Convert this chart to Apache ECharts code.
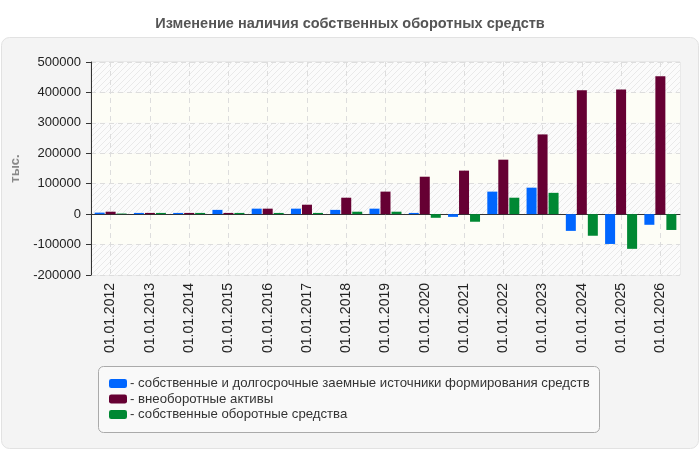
<!DOCTYPE html>
<html>
<head>
<meta charset="utf-8">
<script src="https://cdn.jsdelivr.net/npm/echarts@6/dist/echarts.min.js"></script>
<style>
html, body { margin: 0; padding: 0; background: #fff; }
#chart { width: 700px; height: 450px; }
</style>
</head>
<body>
<div id="chart"></div>
<script>
var categories = ['01.01.2012', '01.01.2013', '01.01.2014', '01.01.2015', '01.01.2016',
	'01.01.2017', '01.01.2018', '01.01.2019', '01.01.2020', '01.01.2021',
	'01.01.2022', '01.01.2023', '01.01.2024', '01.01.2025', '01.01.2026'];
var seriesNames = ['собственные и долгосрочные заемные источники формирования средств',
	'внеоборотные активы', 'собственные оборотные средства'];
var ownAndLongTerm = [5000, 4000, 4000, 14000, 18000, 18000, 14000, 18000, 4000, -9000, 74000, 87000, -55000, -98000, -35000];
var nonCurrentAssets = [8000, 4000, 4000, 4000, 18000, 31000, 54000, 74000, 123000, 143000, 179000, 262000, 407000, 410000, 453000];
var ownWorkingCapital = [2000, 4000, 4000, 4000, 4000, 4000, 8000, 8000, -12000, -25000, 54000, 70000, -71000, -114000, -52000];
var colors = ['#0066ff', '#660033', '#008833'];

// штриховка для полос сетки
function makeHatch() {
	var c = document.createElement('canvas');
	c.width = 6;
	c.height = 6;
	var ctx = c.getContext('2d');
	ctx.fillStyle = '#fbfbfb';
	ctx.fillRect(0, 0, 6, 6);
	ctx.strokeStyle = '#e9e9e9';
	ctx.lineWidth = 1;
	ctx.beginPath();
	ctx.moveTo(0, 6);
	ctx.lineTo(6, 0);
	ctx.moveTo(-1, 1);
	ctx.lineTo(1, -1);
	ctx.moveTo(5, 7);
	ctx.lineTo(7, 5);
	ctx.stroke();
	return { image: c, repeat: 'repeat' };
}

function makeSeries(name, data, color) {
	return {
		name : name,
		type : 'bar',
		data : data,
		barWidth : 10,
		barGap : '10%',
		itemStyle : { color : color }
	};
}

var myChart = echarts.init(document.getElementById('chart'));
var option = {
	animation : false,
	title : {
		text : 'Изменение наличия собственных оборотных средств',
		left : 'center',
		top : 11,
		textStyle : {
			fontFamily : 'Liberation Sans',
			fontSize : 14.5,
			fontWeight : 'bold',
			color : '#555'
		}
	},
	graphic : [ {
		type : 'rect',
		z : -10,
		shape : { x : 1.5, y : 37.5, width : 697, height : 411, r : 8 },
		style : { fill : '#f4f4f4', stroke : '#e2e2e2', lineWidth : 1 }
	}, {
		type : 'rect',
		z : -5,
		shape : { x : 98.5, y : 366.5, width : 501, height : 66, r : 5 },
		style : { fill : '#f9f9f9', stroke : '#aaa', lineWidth : 1 }
	} ],
	legend : {
		orient : 'vertical',
		left : 104,
		top : 372,
		itemWidth : 18,
		itemHeight : 9,
		itemGap : 2.5,
		icon : 'roundRect',
		formatter : '- {name}',
		textStyle : {
			fontFamily : 'Liberation Sans',
			fontSize : 13.2,
			color : '#333',
			padding : [0, 0, 0, -2]
		},
		data : seriesNames
	},
	grid : {
		left : 91,
		right : 20,
		top : 62,
		bottom : 175,
		show : true,
		borderColor : '#ddd',
		borderWidth : 1,
		backgroundColor : 'transparent'
	},
	xAxis : {
		type : 'category',
		data : categories,
		axisLine : { lineStyle : { color : '#333', width : 1 } },
		axisTick : { alignWithLabel : true, length : 5, lineStyle : { color : '#333' } },
		axisLabel : {
			rotate : 90,
			fontFamily : 'Liberation Sans',
			fontSize : 14,
			color : '#222',
			margin : 8
		},
		splitLine : {
			show : true,
			alignWithLabel : true,
			lineStyle : { color : '#ddd', type : [5, 4] }
		}
	},
	yAxis : {
		type : 'value',
		min : -200000,
		max : 500000,
		interval : 100000,
		name : 'тыс.',
		nameLocation : 'middle',
		nameGap : 58,
		nameTextStyle : {
			fontFamily : 'Liberation Sans',
			fontSize : 13,
			fontWeight : 'bold',
			color : '#888'
		},
		axisLine : { show : true, lineStyle : { color : '#333', width : 1 } },
		axisTick : { show : true, length : 5, lineStyle : { color : '#333' } },
		axisLabel : {
			fontFamily : 'Liberation Sans',
			fontSize : 13,
			color : '#222',
			margin : 10,
			formatter : function (v) { return String(v); }
		},
		splitLine : { show : true, lineStyle : { color : '#ddd', type : [5, 4] } },
		splitArea : { show : true, areaStyle : { color : [ makeHatch(), '#fdfdf6' ] } }
	},
	series : [
		makeSeries(seriesNames[0], ownAndLongTerm, colors[0]),
		makeSeries(seriesNames[1], nonCurrentAssets, colors[1]),
		makeSeries(seriesNames[2], ownWorkingCapital, colors[2])
	]
};
myChart.setOption(option, true);
</script>
</body>
</html>
